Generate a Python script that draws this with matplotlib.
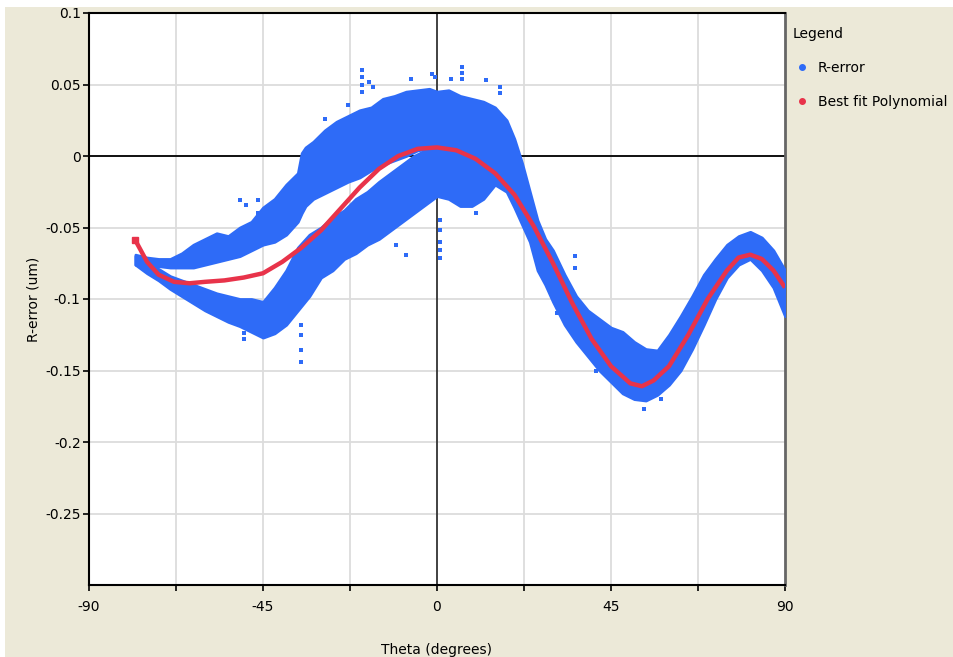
import matplotlib
matplotlib.use("Agg")
import matplotlib.pyplot as plt
from matplotlib.patches import Rectangle
from matplotlib.lines import Line2D

plt.rcParams['font.family'] = ['DejaVu Sans']

# ---- data ----
# best-fit polynomial (theta in degrees, R-error in um)
fit_theta = [-78, -75, -72, -68, -64, -60, -55, -50, -45, -40, -35, -30, -25, -20,
             -15, -10, -5, 0, 5, 10, 15, 20, 25, 30, 35, 40, 45, 50, 53, 56, 60,
             65, 70, 75, 78, 81, 84, 87, 90]
fit_val = [-0.059, -0.074, -0.083, -0.088, -0.089, -0.088, -0.087, -0.085, -0.082,
           -0.074, -0.064, -0.052, -0.037, -0.022, -0.009, 0.000, 0.005, 0.006,
           0.004, -0.002, -0.012, -0.027, -0.049, -0.075, -0.103, -0.128, -0.147,
           -0.159, -0.161, -0.157, -0.147, -0.125, -0.100, -0.080, -0.071, -0.069,
           -0.072, -0.080, -0.092]

# R-error scatter, upper branch envelope (left half)
up_theta = [-78, -75, -72, -69, -66, -63, -60, -57, -54, -51, -48, -45, -42, -39,
            -36, -35, -34, -32, -29, -26, -23, -20, -17, -14, -11, -8, -5, -2, 0]
up_lo = [-0.076, -0.077, -0.077, -0.078, -0.078, -0.078, -0.076, -0.074, -0.072,
         -0.070, -0.066, -0.062, -0.060, -0.055, -0.046, -0.040, -0.035, -0.030,
         -0.026, -0.022, -0.018, -0.015, -0.010, -0.006, -0.003, 0.000, 0.004,
         0.005, 0.004]
up_hi = [-0.069, -0.071, -0.072, -0.072, -0.068, -0.062, -0.058, -0.054, -0.056,
         -0.050, -0.046, -0.036, -0.030, -0.020, -0.012, 0.002, 0.006, 0.010,
         0.018, 0.024, 0.028, 0.032, 0.034, 0.040, 0.042, 0.045, 0.046, 0.047,
         0.045]

# lower branch envelope (left half)
low_theta = [-78, -75, -72, -69, -66, -63, -60, -57, -54, -51, -48, -45, -42, -39,
             -36, -33, -30, -27, -24, -21, -18, -15, -12, -9, -6, -3, 0]
low_lo = [-0.076, -0.082, -0.087, -0.093, -0.098, -0.103, -0.108, -0.112, -0.116,
          -0.119, -0.123, -0.127, -0.124, -0.118, -0.108, -0.098, -0.085, -0.080,
          -0.072, -0.068, -0.062, -0.058, -0.052, -0.046, -0.040, -0.034, -0.028]
low_hi = [-0.070, -0.074, -0.079, -0.084, -0.087, -0.090, -0.093, -0.096, -0.098,
          -0.100, -0.100, -0.102, -0.092, -0.080, -0.064, -0.055, -0.050, -0.043,
          -0.038, -0.030, -0.025, -0.018, -0.012, -0.006, 0.000, 0.004, 0.008]

# merged band envelope (right half)
mrg_theta = [0, 3, 6, 9, 12, 15, 18, 20, 22, 24, 26, 28, 30, 33, 36, 39, 42, 45,
             48, 51, 54, 57, 60, 63, 66, 69, 72, 75, 78, 81, 84, 87, 90]
mrg_lo = [-0.028, -0.030, -0.035, -0.035, -0.030, -0.020, -0.025, -0.036, -0.048,
          -0.060, -0.080, -0.090, -0.102, -0.118, -0.130, -0.140, -0.150, -0.158,
          -0.166, -0.170, -0.171, -0.167, -0.160, -0.150, -0.135, -0.118, -0.100,
          -0.085, -0.076, -0.072, -0.080, -0.092, -0.112]
mrg_hi = [0.045, 0.046, 0.042, 0.040, 0.038, 0.034, 0.025, 0.012, -0.005, -0.025,
          -0.045, -0.058, -0.066, -0.083, -0.098, -0.108, -0.114, -0.120, -0.123,
          -0.130, -0.135, -0.136, -0.125, -0.112, -0.098, -0.083, -0.072, -0.062,
          -0.056, -0.053, -0.057, -0.066, -0.080]

# isolated R-error points outside the dense bands
out_theta = [-35.2, -35.2, -35.2, -35.2, -49.8, -49.8, -19.5, -19.5, -19.5, -19.5,
             -17.6, -16.5, -6.8, -1.4, -0.5, 6.4, 6.4, 6.4, 3.7, 0.8, 0.8, 0.8,
             0.8, 0.8, -8.0, -10.5, 16.2, 16.2, 12.6, 35.7, 35.7, -50.9, -49.5,
             -46.3, -46.3, -26.0, 41.0, 53.5, -23.0, -29.0, 10.0, 31.0, 58.0]
out_val = [-0.144, -0.136, -0.125, -0.118, -0.128, -0.124, 0.060, 0.055, 0.050,
           0.045, 0.052, 0.048, 0.054, 0.057, 0.055, 0.062, 0.058, 0.054, 0.054,
           -0.045, -0.052, -0.060, -0.066, -0.071, -0.069, -0.062, 0.048, 0.044,
           0.053, -0.070, -0.078, -0.031, -0.034, -0.031, -0.040, -0.073, -0.150,
           -0.177, 0.036, 0.026, -0.040, -0.110, -0.170]

x_major = [-90, -45, 0, 45, 90]
x_minor = [-67.5, -22.5, 22.5, 67.5]
y_ticks = [-0.25, -0.2, -0.15, -0.1, -0.05, 0, 0.05, 0.1]
y_labels = ['-0.25', '-0.2', '-0.15', '-0.1', '-0.05', '0', '0.05', '0.1']

BLUE = '#2E6BF7'
RED = '#E8334A'
BEIGE = '#ECE9D8'

fig = plt.figure(figsize=(9.54, 6.57), dpi=100, facecolor='white')
bg = Rectangle((5 / 954, 0), 1, (657 - 7) / 657, transform=fig.transFigure,
               facecolor=BEIGE, edgecolor='none', zorder=-10)
fig.add_artist(bg)

ax = fig.add_axes([89 / 954, 1 - 585 / 657, 696 / 954, 572 / 657])
ax.set_zorder(1)
ax.set_facecolor('white')
ax.set_xlim(-90, 90)
ax.set_ylim(-0.3, 0.1)

# grid
for gx in x_minor + [-45, 45]:
    ax.axvline(gx, color='#DCDCDC', lw=1.3, zorder=1)
for gy in y_ticks:
    ax.axhline(gy, color='#DCDCDC', lw=1.3, zorder=1)
ax.axhline(0, color='black', lw=1.3, zorder=2)
ax.axvline(0, color='#333333', lw=1.3, zorder=2)

# scatter bands (dense R-error cloud), with a rough edge like the point cloud
for xs, lo, hi in [(up_theta, up_lo, up_hi), (low_theta, low_lo, low_hi),
                   (mrg_theta, mrg_lo, mrg_hi)]:
    band = ax.fill_between(xs, lo, hi, color=BLUE, lw=2.0, edgecolor=BLUE,
                           zorder=3)
    band.set_sketch_params(scale=2.5, length=6, randomness=8)
ax.scatter(out_theta, out_val, s=7, marker='s', color=BLUE, lw=0, zorder=3)

# fit curve
ax.plot(fit_theta, fit_val, color=RED, lw=3.2, zorder=4, solid_capstyle='butt',
        marker='s', markersize=5, markevery=[0])

# ticks
ax.set_xticks(x_major)
ax.set_xticks(x_minor, minor=True)
ax.set_xticklabels([str(v) for v in x_major])
ax.set_yticks(y_ticks)
ax.set_yticklabels(y_labels)
ax.tick_params(axis='both', which='both', direction='out', length=4, width=1.2,
               labelsize=10, colors='black')
ax.tick_params(axis='y', pad=2)
ax.tick_params(axis='x', which='both', pad=7)

for side in ['left', 'bottom', 'top']:
    ax.spines[side].set_color('black')
    ax.spines[side].set_linewidth(1.5)
ax.spines['right'].set_color('#666666')
ax.spines['right'].set_linewidth(2)

ax.set_xlabel('Theta (degrees)', fontsize=10, labelpad=21)
ax.set_ylabel('R-error (um)', fontsize=10, labelpad=3)

handles = [Line2D([], [], ls='none', marker='o', markersize=4, color=BLUE),
           Line2D([], [], ls='none', marker='o', markersize=4, color=RED)]
leg = ax.legend(handles, ['R-error', 'Best fit Polynomial'], title='Legend',
                loc='upper left', bbox_to_anchor=(787 / 954, 1 - 21 / 657),
                bbox_transform=fig.transFigure, frameon=False, fontsize=10,
                title_fontsize=10, labelspacing=1.45, handletextpad=0.5,
                handlelength=1.3, borderaxespad=0)
leg._legend_box.align = 'left'

fig.savefig('out.png', dpi=100, facecolor=fig.get_facecolor())
